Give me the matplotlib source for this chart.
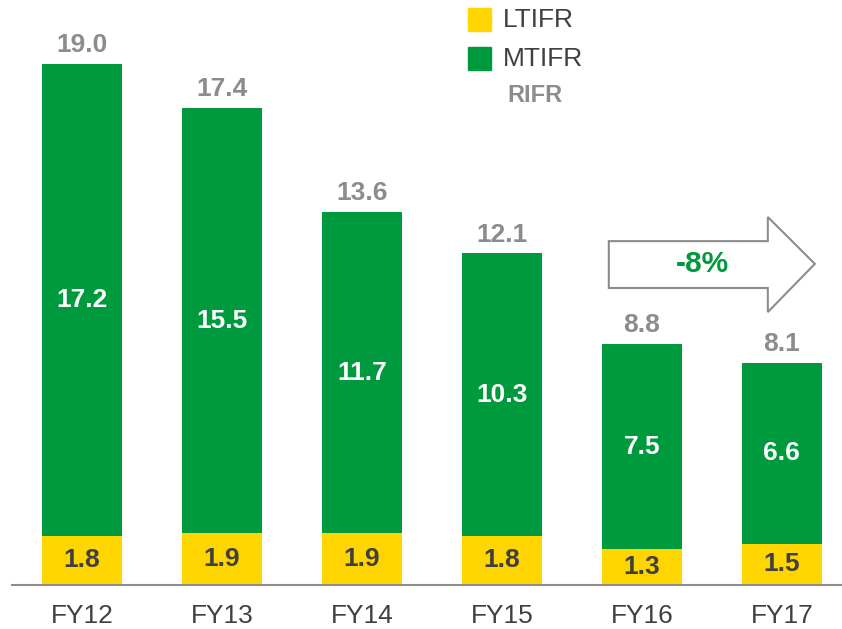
import matplotlib.pyplot as plt
from matplotlib.patches import Rectangle, Polygon

plt.rcParams['font.family'] = ['Liberation Sans', 'DejaVu Sans']

years = ['FY12', 'FY13', 'FY14', 'FY15', 'FY16', 'FY17']
ltifr = [1.8, 1.9, 1.9, 1.8, 1.3, 1.5]
mtifr = [17.2, 15.5, 11.7, 10.3, 7.5, 6.6]
rifr = [19.0, 17.4, 13.6, 12.1, 8.8, 8.1]
change_label = '-8%'

YELLOW = '#ffd500'
GREEN = '#009a3e'
GREY = '#8c8c8c'
DARK = '#404040'

W, H = 842, 629
fig = plt.figure(figsize=(W / 100, H / 100), dpi=100)
# axes from x=12..842 px, baseline at y=585 px, top at y=0
ax = fig.add_axes([12 / W, (H - 585) / H, 1 - 12 / W, 585 / H])
ax.set_xlim(-0.5, 5.43)
ax.set_ylim(0, 585 / 27.4)

x = range(len(years))
width = 80 / 140
ax.bar(x, ltifr, width, color=YELLOW)
ax.bar(x, mtifr, width, bottom=ltifr, color=GREEN)

for i in x:
    ax.text(i, ltifr[i] / 2, f'{ltifr[i]:.1f}', ha='center', va='center',
            fontsize=19, fontweight='bold', color=DARK)
    ax.text(i, ltifr[i] + mtifr[i] / 2, f'{mtifr[i]:.1f}', ha='center',
            va='center', fontsize=19, fontweight='bold', color='white')
    ax.annotate(f'{rifr[i]:.1f}', (i, rifr[i]), xytext=(0, 5),
                textcoords='offset points', ha='center', va='bottom',
                fontsize=19, fontweight='bold', color=GREY)

ax.set_xticks(list(x))
ax.set_xticklabels(years, fontsize=19, color=DARK)
ax.tick_params(axis='x', length=0, pad=14)
ax.set_yticks([])
for s in ['top', 'right', 'left']:
    ax.spines[s].set_visible(False)
ax.spines['bottom'].set_color(GREY)
ax.spines['bottom'].set_linewidth(1.5)

# arrow with change label
arrow = Polygon([(3.764, 12.55), (4.9, 12.55), (4.9, 13.43), (5.236, 11.72),
                 (4.9, 9.96), (4.9, 10.84), (3.764, 10.84)],
                closed=True, facecolor='white', edgecolor=GREY, linewidth=1.5,
                clip_on=False)
ax.add_patch(arrow)
ax.text(4.43, 11.72, change_label, ha='center', va='center', fontsize=21.5,
        fontweight='bold', color=GREEN)

# legend
def px(xp, yp):
    return xp / W, 1 - yp / H

for (y0, col, lab) in [(8, YELLOW, 'LTIFR'), (47, GREEN, 'MTIFR')]:
    fx, fy = px(468, y0 + 23)
    fig.patches.append(Rectangle((fx, fy), 23 / W, 23 / H, color=col,
                                 transform=fig.transFigure))
    tx, ty = px(503, y0 + 12)
    fig.text(tx, ty, lab, ha='left', va='center', fontsize=19, color=DARK)
tx, ty = px(507, 96)
fig.text(tx, ty, 'RIFR', ha='left', va='center', fontsize=17,
         fontweight='bold', color=GREY)

fig.savefig('out.png', dpi=100)
